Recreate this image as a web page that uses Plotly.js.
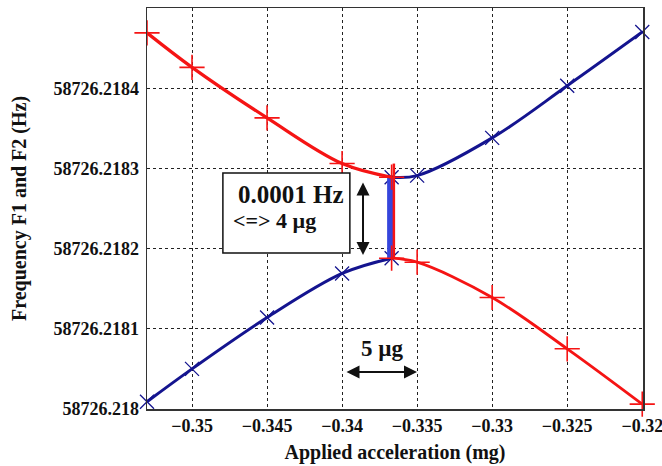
<!DOCTYPE html>
<html>
<head>
<meta charset="utf-8">
<script src="https://cdn.plot.ly/plotly-3.0.1.min.js"></script>
<style>html,body{margin:0;padding:0;background:#fff;}#chart{width:662px;height:466px;}</style>
</head>
<body>
<div id="chart"></div>
<script>
// Applied acceleration (mg), left of the anti-crossing and right of it
const accelLeft  = [-0.353, -0.35, -0.345, -0.34, -0.3367];
const accelRight = [-0.3367, -0.335, -0.33, -0.325, -0.32];
// Red series (+): upper branch on the left, lower branch on the right
const redLeft  = [58726.218469, 58726.218426, 58726.218363, 58726.218306, 58726.218289];
const redRight = [58726.218188, 58726.218183, 58726.218139, 58726.218075, 58726.218006];
// Blue series (x): lower branch on the left, upper branch on the right
const blueLeft  = [58726.218009, 58726.218050, 58726.218114, 58726.218169, 58726.218188];
const blueRight = [58726.218289, 58726.218291, 58726.218338, 58726.218403, 58726.218470];
// vertical jumps at the anti-crossing
const jumpBlueX = [-0.3368, -0.3368];
const jumpBlueY = [58726.218188, 58726.218289];
const jumpRedX  = [-0.33655, -0.33655];
const jumpRedY  = [58726.218306, 58726.218188];

const xTickVals = [-0.35, -0.345, -0.34, -0.335, -0.33, -0.325, -0.32];
const xTickText = ['\u22120.35', '\u22120.345', '\u22120.34', '\u22120.335', '\u22120.33', '\u22120.325', '\u22120.32'];
const yTickVals = [58726.218, 58726.2181, 58726.2182, 58726.2183, 58726.2184];
const yTickText = ['58726.218', '58726.2181', '58726.2182', '58726.2183', '58726.2184'];

const RED = '#f51414';
const BLUE = '#14148f';
const BLUE2 = '#3545dc';
const FONT = '"Liberation Serif", "Times New Roman", serif';

const redMarker = {symbol: 'cross-thin', size: 18, line: {color: RED, width: 1.6}, color: RED};
const blueMarker = {symbol: 'x-thin', size: 14, line: {color: BLUE, width: 1.3}, color: BLUE};

const traces = [
  {x: accelLeft, y: blueLeft, mode: 'lines+markers', line: {color: BLUE, width: 3, shape: 'spline'}, marker: blueMarker, cliponaxis: false},
  {x: accelRight, y: blueRight, mode: 'lines+markers', line: {color: BLUE, width: 3, shape: 'spline'}, marker: blueMarker, cliponaxis: false},
  {x: jumpBlueX, y: jumpBlueY, mode: 'lines', line: {color: BLUE2, width: 6}},
  {x: accelLeft, y: redLeft, mode: 'lines+markers', line: {color: RED, width: 3.2, shape: 'spline'}, marker: redMarker, cliponaxis: false},
  {x: accelRight, y: redRight, mode: 'lines+markers', line: {color: RED, width: 2.8, shape: 'spline'}, marker: redMarker, cliponaxis: false},
  {x: jumpRedX, y: jumpRedY, mode: 'lines', line: {color: RED, width: 2.5}}
];

function tickFont() { return {family: FONT, size: 18, color: '#111', weight: 700}; }

const layout = {
  width: 662, height: 466,
  margin: {l: 147, r: 19, t: 8, b: 57},
  paper_bgcolor: '#fff', plot_bgcolor: '#fff',
  font: {family: FONT, color: '#111'},
  showlegend: false,
  xaxis: {
    showgrid: true, gridcolor: '#222', griddash: 'dot', gridwidth: 1,
    showline: true, mirror: true, linecolor: '#333', linewidth: 1.5,
    zeroline: false, ticks: '',
    tickfont: tickFont(),
    range: [-0.353, -0.31995], tickmode: 'array', tickvals: xTickVals, ticktext: xTickText,
    ticklabelstandoff: 0, ticklabeloverflow: 'allow',
    title: {text: '<b>Applied acceleration (mg)</b>', font: {family: FONT, size: 20, color: '#111'}, standoff: 10}
  },
  yaxis: {
    showgrid: true, gridcolor: '#222', griddash: 'dot', gridwidth: 1,
    showline: true, mirror: true, linecolor: '#333', linewidth: 1.5,
    zeroline: false, ticks: '',
    tickfont: tickFont(),
    range: [58726.21799995, 58726.2185], tickmode: 'array', tickvals: yTickVals, ticktext: yTickText,
    ticklabelstandoff: 3, ticklabeloverflow: 'allow',
    title: {text: '<b>Frequency F1 and F2 (Hz)</b>', font: {family: FONT, size: 20, color: '#111'}, standoff: 21}
  },
  shapes: [
    {type: 'rect', xref: 'paper', yref: 'paper', x0: 0.153, x1: 0.409, y0: 0.389, y1: 0.5885,
     fillcolor: '#fff', line: {color: '#111', width: 1.5}, layer: 'above'}
  ],
  annotations: [
    {xref: 'paper', yref: 'paper', x: 0.180, y: 0.536, xanchor: 'left', yanchor: 'middle', showarrow: false,
     text: '<b>0.0001 Hz</b>', font: {family: FONT, size: 25, color: '#111'}},
    {xref: 'paper', yref: 'paper', x: 0.170, y: 0.471, xanchor: 'left', yanchor: 'middle', showarrow: false,
     text: '<b>&lt;=&gt; 4 \u00b5g</b>', font: {family: FONT, size: 22, color: '#111'}},
    {xref: 'paper', yref: 'paper', x: 0.4355, y: 0.384, ax: 0, ay: -74, showarrow: true,
     arrowhead: 2, arrowside: 'end+start', arrowsize: 1.3, arrowwidth: 2, arrowcolor: '#111', text: ''},
    {xref: 'paper', yref: 'paper', x: 0.5444, y: 0.0923, ax: -72, ay: 0, showarrow: true,
     arrowhead: 2, arrowside: 'end+start', arrowsize: 1.3, arrowwidth: 2, arrowcolor: '#111', text: ''},
    {xref: 'paper', yref: 'paper', x: 0.4738, y: 0.152, xanchor: 'center', yanchor: 'middle', showarrow: false,
     text: '<b>5 \u00b5g</b>', font: {family: FONT, size: 23, color: '#111'}}
  ]
};

Plotly.newPlot('chart', traces, layout, {displayModeBar: false, staticPlot: true});
</script>
</body>
</html>
